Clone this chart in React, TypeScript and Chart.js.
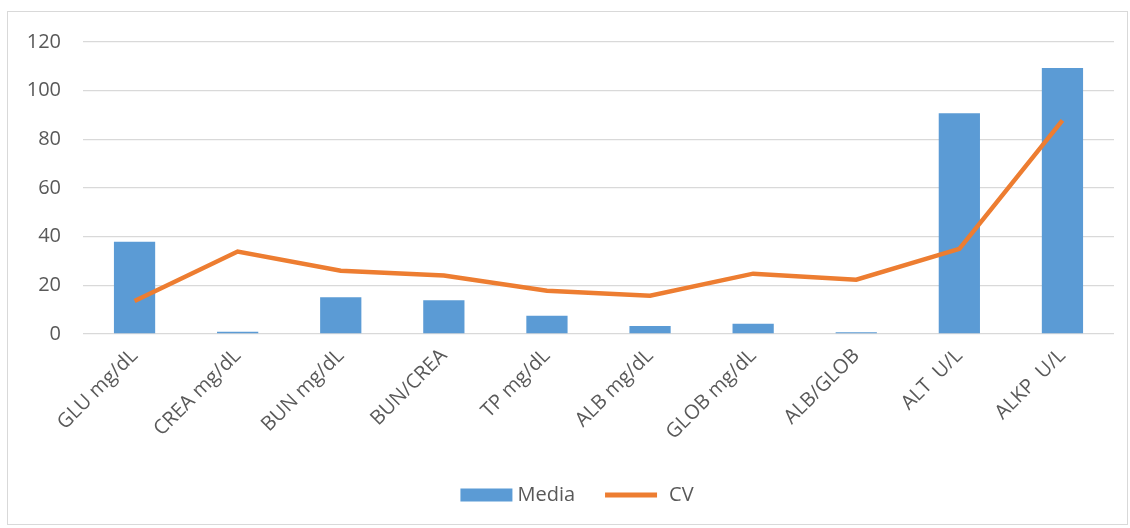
import React, { useEffect, useRef } from "react";
import { Chart, registerables } from "chart.js";

Chart.register(...registerables);

const categories = [
  "GLU mg/dL",
  "CREA mg/dL",
  "BUN mg/dL",
  "BUN/CREA",
  "TP mg/dL",
  "ALB mg/dL",
  "GLOB mg/dL",
  "ALB/GLOB",
  "ALT  U/L",
  "ALKP  U/L",
];
const mediaValues = [37.9, 0.9, 15.1, 13.9, 7.5, 3.3, 4.2, 0.7, 90.7, 109.3];
const cvValues = [13.6, 33.9, 26.0, 24.0, 17.8, 15.7, 24.8, 22.3, 35.0, 87.8];
const yTicks = [0, 20, 40, 60, 80, 100, 120];

const BLUE = "#5b9bd5";
const ORANGE = "#ed7d31";
const TEXT = "#595959";
const GRID = "#d9d9d9";
const FONT = "'Open Sans', 'Noto Sans', sans-serif";

// Excel-like legend: wide box for the bar series, thick line for the line series
const excelLegend = {
  id: "excelLegend",
  afterDraw(chart: any) {
    const ctx = chart.ctx as CanvasRenderingContext2D;
    const ds = chart.data.datasets;
    ctx.save();
    ctx.font = `20px ${FONT}`;
    ctx.textBaseline = "middle";
    ctx.textAlign = "left";
    const swatchW = 52;
    const textGap = 5;
    const itemGap = 30;
    const widths = ds.map((d: any) => ctx.measureText(d.label).width);
    let total = 0;
    widths.forEach((w: number, i: number) => {
      total += swatchW + textGap + w + (i < widths.length - 1 ? itemGap : 0);
    });
    let x = chart.width / 2 + 6 - total / 2;
    const y = chart.height - 29;
    ds.forEach((d: any, i: number) => {
      if (d.type === "line") {
        ctx.fillStyle = d.borderColor;
        ctx.fillRect(x, y - 2.5, swatchW, 5);
        x += swatchW + textGap + 7;
      } else {
        ctx.fillStyle = d.backgroundColor;
        ctx.fillRect(x, y - 6.5, swatchW, 13);
        x += swatchW + textGap;
      }
      ctx.fillStyle = TEXT;
      ctx.fillText(d.label, x, y);
      x += widths[i] + itemGap;
    });
    ctx.restore();
  },
};

export default function App() {
  const ref = useRef<HTMLCanvasElement | null>(null);

  useEffect(() => {
    if (!ref.current) return;
    const chart = new Chart(ref.current, {
      type: "bar",
      data: {
        labels: categories,
        datasets: [
          {
            type: "bar",
            label: "Media",
            data: mediaValues,
            backgroundColor: BLUE,
            categoryPercentage: 1,
            barPercentage: 0.4,
            order: 2,
          },
          {
            type: "line",
            label: "CV",
            data: cvValues,
            borderColor: ORANGE,
            backgroundColor: ORANGE,
            borderWidth: 4.5,
            pointRadius: 0,
            pointHoverRadius: 0,
            tension: 0,
            order: 1,
          },
        ],
      },
      plugins: [excelLegend],
      options: {
        animation: false,
        responsive: false,
        maintainAspectRatio: false,
        layout: { padding: { top: 30, right: 13, bottom: 49, left: 0 } },
        plugins: {
          tooltip: { enabled: false },
          legend: { display: false },
        },
        scales: {
          x: {
            grid: { display: false },
            border: { display: false },
            ticks: {
              color: TEXT,
              font: { family: FONT, size: 20 },
              minRotation: 45,
              maxRotation: 45,
              padding: 2,
              autoSkip: false,
            },
            afterFit: (scale: any) => {
              scale.height = 141;
            },
          },
          y: {
            min: 0,
            max: 120,
            afterBuildTicks: (scale: any) => {
              scale.ticks = yTicks.map((v) => ({ value: v }));
            },
            grid: { color: GRID, lineWidth: 1.3, drawTicks: false },
            border: { display: false },
            ticks: {
              color: TEXT,
              font: { family: FONT, size: 20 },
              padding: 22,
            },
            afterFit: (scale: any) => {
              scale.width = 75;
              scale.paddingTop = 12;
              scale.paddingBottom = 12;
            },
          },
        },
      },
    });
    return () => chart.destroy();
  }, []);

  return (
    <div
      style={{
        position: "absolute",
        left: 7,
        top: 11,
        width: 1121,
        height: 514,
        border: "1px solid #d9d9d9",
        boxSizing: "border-box",
        background: "#fff",
      }}
    >
      <canvas ref={ref} width={1119} height={512} style={{ display: "block" }} />
    </div>
  );
}
